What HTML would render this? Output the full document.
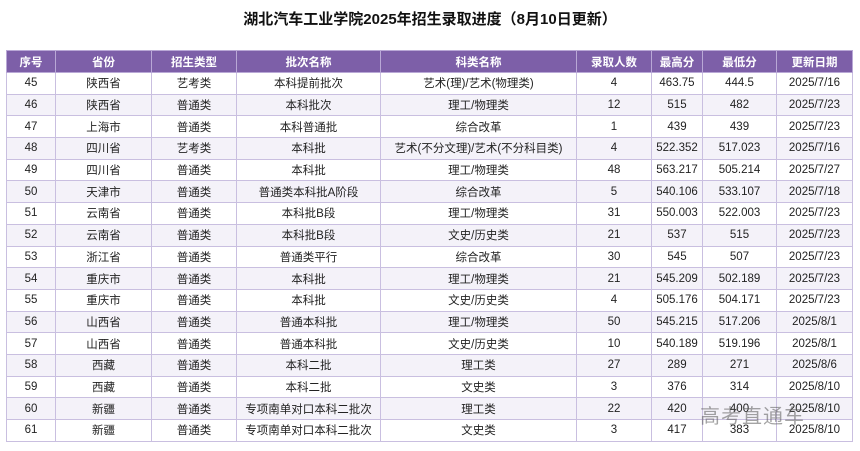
<!DOCTYPE html>
<html><head><meta charset="utf-8"><style>
body{margin:0;width:860px;height:451px;background:#fff;font-family:"Liberation Sans","Noto Sans CJK SC",sans-serif;position:relative;overflow:hidden}
.t{position:absolute;top:8px;left:0;width:860px;text-align:center;font-size:15px;font-weight:bold;color:#111}
table{position:absolute;left:6px;top:50px;border-collapse:collapse;table-layout:fixed;width:846px}
td,th{border:1px solid #c9bfe0;text-align:center;font-size:11.5px;color:#222;height:20.7px;padding:0;white-space:nowrap;overflow:hidden}
th{background:#7d5fa8;color:#fff;font-weight:bold;height:21px;border-color:#b9a8d6}
tr:nth-child(odd) td{background:#f4f2f9}
table{border:1px solid #777}
.w{position:absolute;left:700px;top:400px;font-size:20px;color:rgba(90,90,90,.55);font-family:"Noto Sans CJK SC",sans-serif;letter-spacing:1px}
</style></head><body>
<div class="t">湖北汽车工业学院2025年招生录取进度（8月10日更新）</div>
<table>
<colgroup><col style="width:49px"><col style="width:96px"><col style="width:85px"><col style="width:144px"><col style="width:196px"><col style="width:75px"><col style="width:51px"><col style="width:74px"><col style="width:76px"></colgroup>
<tr><th>序号</th><th>省份</th><th>招生类型</th><th>批次名称</th><th>科类名称</th><th>录取人数</th><th>最高分</th><th>最低分</th><th>更新日期</th></tr>
<tr><td>45</td><td>陕西省</td><td>艺考类</td><td>本科提前批次</td><td>艺术(理)/艺术(物理类)</td><td>4</td><td>463.75</td><td>444.5</td><td>2025/7/16</td></tr>
<tr><td>46</td><td>陕西省</td><td>普通类</td><td>本科批次</td><td>理工/物理类</td><td>12</td><td>515</td><td>482</td><td>2025/7/23</td></tr>
<tr><td>47</td><td>上海市</td><td>普通类</td><td>本科普通批</td><td>综合改革</td><td>1</td><td>439</td><td>439</td><td>2025/7/23</td></tr>
<tr><td>48</td><td>四川省</td><td>艺考类</td><td>本科批</td><td>艺术(不分文理)/艺术(不分科目类)</td><td>4</td><td>522.352</td><td>517.023</td><td>2025/7/16</td></tr>
<tr><td>49</td><td>四川省</td><td>普通类</td><td>本科批</td><td>理工/物理类</td><td>48</td><td>563.217</td><td>505.214</td><td>2025/7/27</td></tr>
<tr><td>50</td><td>天津市</td><td>普通类</td><td>普通类本科批A阶段</td><td>综合改革</td><td>5</td><td>540.106</td><td>533.107</td><td>2025/7/18</td></tr>
<tr><td>51</td><td>云南省</td><td>普通类</td><td>本科批B段</td><td>理工/物理类</td><td>31</td><td>550.003</td><td>522.003</td><td>2025/7/23</td></tr>
<tr><td>52</td><td>云南省</td><td>普通类</td><td>本科批B段</td><td>文史/历史类</td><td>21</td><td>537</td><td>515</td><td>2025/7/23</td></tr>
<tr><td>53</td><td>浙江省</td><td>普通类</td><td>普通类平行</td><td>综合改革</td><td>30</td><td>545</td><td>507</td><td>2025/7/23</td></tr>
<tr><td>54</td><td>重庆市</td><td>普通类</td><td>本科批</td><td>理工/物理类</td><td>21</td><td>545.209</td><td>502.189</td><td>2025/7/23</td></tr>
<tr><td>55</td><td>重庆市</td><td>普通类</td><td>本科批</td><td>文史/历史类</td><td>4</td><td>505.176</td><td>504.171</td><td>2025/7/23</td></tr>
<tr><td>56</td><td>山西省</td><td>普通类</td><td>普通本科批</td><td>理工/物理类</td><td>50</td><td>545.215</td><td>517.206</td><td>2025/8/1</td></tr>
<tr><td>57</td><td>山西省</td><td>普通类</td><td>普通本科批</td><td>文史/历史类</td><td>10</td><td>540.189</td><td>519.196</td><td>2025/8/1</td></tr>
<tr><td>58</td><td>西藏</td><td>普通类</td><td>本科二批</td><td>理工类</td><td>27</td><td>289</td><td>271</td><td>2025/8/6</td></tr>
<tr><td>59</td><td>西藏</td><td>普通类</td><td>本科二批</td><td>文史类</td><td>3</td><td>376</td><td>314</td><td>2025/8/10</td></tr>
<tr><td>60</td><td>新疆</td><td>普通类</td><td>专项南单对口本科二批次</td><td>理工类</td><td>22</td><td>420</td><td>400</td><td>2025/8/10</td></tr>
<tr><td>61</td><td>新疆</td><td>普通类</td><td>专项南单对口本科二批次</td><td>文史类</td><td>3</td><td>417</td><td>383</td><td>2025/8/10</td></tr>
</table>
<div class="w">高考直通车</div>
</body></html>
